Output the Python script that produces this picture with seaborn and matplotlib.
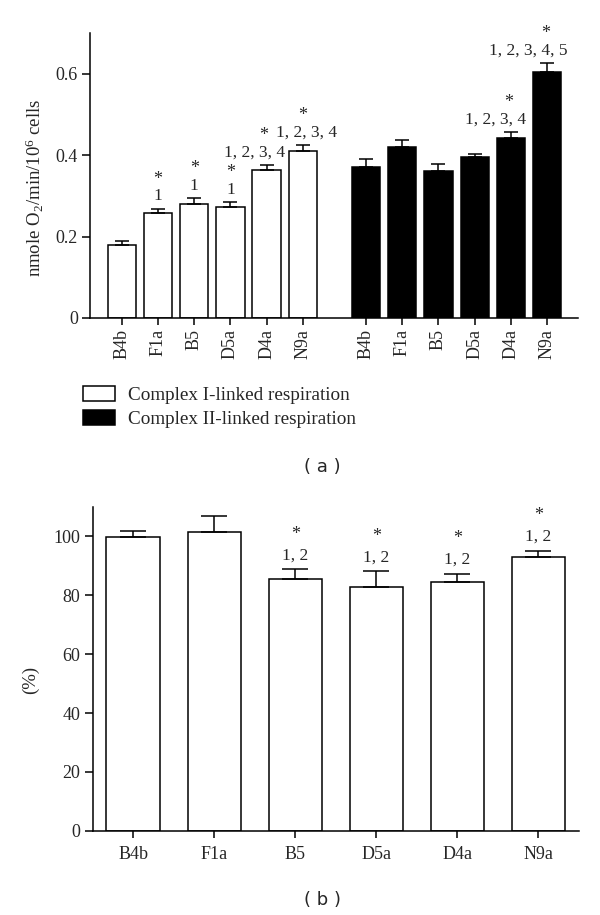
import matplotlib
matplotlib.use('Agg')
import matplotlib.pyplot as plt
from matplotlib.patches import Patch
import numpy as np
import pandas as pd
import seaborn as sns

# strains / cell lines
strains = ['B4b', 'F1a', 'B5', 'D5a', 'D4a', 'N9a']
series_names = ['Complex I-linked respiration', 'Complex II-linked respiration']

# (a) oxygen consumption, nmole O2/min/10^6 cells (mean + SEM)
complex1_mean = [0.178, 0.258, 0.281, 0.272, 0.363, 0.411]
complex1_sem = [0.010, 0.010, 0.013, 0.012, 0.012, 0.014]
complex2_mean = [0.371, 0.419, 0.361, 0.395, 0.442, 0.604]
complex2_sem = [0.019, 0.018, 0.016, 0.007, 0.014, 0.022]
complex1_marks = ['', '1', '1', '1', '1, 2, 3, 4', '1, 2, 3, 4']
complex2_marks = ['', '', '', '', '1, 2, 3, 4', '1, 2, 3, 4, 5']

# (b) ratio in %
ratio_mean = [99.9, 101.6, 85.7, 82.7, 84.5, 93.0]
ratio_sem = [1.9, 5.2, 3.1, 5.5, 2.9, 2.1]
ratio_marks = ['', '', '1, 2', '1, 2', '1, 2', '1, 2']

yticks_a = [0, 0.2, 0.4, 0.6]
yticklabels_a = ['0', '0.2', '0.4', '0.6']
yticks_b = [0, 20, 40, 60, 80, 100]

sns.set_theme(style='ticks')
plt.rcParams['font.family'] = ['Liberation Serif', 'DejaVu Serif']
plt.rcParams['mathtext.default'] = 'regular'

PX = 0.72  # points per pixel at dpi 100
LW = 1.1
STAR_SIZE = 13
MARK_SIZE = 12.5

fig = plt.figure(figsize=(6, 9.15), dpi=100)
ax_a = fig.add_axes([0.15, 0.6525, 0.813, 0.3115])
ax_b = fig.add_axes([0.1545, 0.0921, 0.8105, 0.3538])

# ---- panel a ----
gap = 6.75
pos1 = np.arange(len(strains), dtype=float)
pos2 = pos1 + gap
df_a = pd.DataFrame({
    'pos': np.concatenate([pos1, pos2]),
    'value': complex1_mean + complex2_mean,
    'sem': complex1_sem + complex2_sem,
    'mark': complex1_marks + complex2_marks,
    'series': [series_names[0]] * 6 + [series_names[1]] * 6,
})
sns.barplot(data=df_a, x='pos', y='value', hue='series', native_scale=True,
            dodge=False, width=0.78, palette={series_names[0]: 'white', series_names[1]: 'black'},
            edgecolor='black', linewidth=LW, legend=False, ax=ax_a)
ax_a.errorbar(df_a['pos'], df_a['value'], yerr=[np.zeros(len(df_a)), df_a['sem']],
              fmt='none', ecolor='black', elinewidth=LW, capsize=5, capthick=LW, zorder=3)

# label offsets (px): number dx, star dx
label_dx_a = [0, 0, 0, 0, -12, 4, 0, 0, 0, 0, -15, -19]
star_dx_a = [0, 0, 0, 0, -3, 0, 0, 0, 0, 0, -2, -1]
for i, row in df_a.iterrows():
    if not row['mark']:
        continue
    top = row['value'] + row['sem']
    ax_a.annotate(row['mark'], (row['pos'], top), xytext=(label_dx_a[i] * PX, 12.5 * PX),
                  textcoords='offset points', ha='center', va='center', fontsize=MARK_SIZE)
    ax_a.annotate('*', (row['pos'], top), xytext=(star_dx_a[i] * PX, 29.5 * PX),
                  textcoords='offset points', ha='center', va='center', fontsize=STAR_SIZE)

ax_a.set_xlim(-0.88, 12.6)
ax_a.set_ylim(0, 0.7)
ax_a.set_xticks(df_a['pos'])
ax_a.set_xticklabels(strains + strains, rotation=90, fontsize=13)
ax_a.set_yticks(yticks_a)
ax_a.set_yticklabels(yticklabels_a, fontsize=13)
ax_a.set_xlabel('')
ax_a.set_ylabel('')
fig.text(35 / 600, 1 - 188 / 915, 'nmole O$_2$/min/10$^6$ cells', rotation=90,
         ha='center', va='center', fontsize=13.5)

# ---- panel b ----
df_b = pd.DataFrame({'strain': strains, 'value': ratio_mean, 'sem': ratio_sem, 'mark': ratio_marks})
sns.barplot(data=df_b, x='strain', y='value', color='white', width=0.66,
            edgecolor='black', linewidth=LW, ax=ax_b)
ax_b.errorbar(np.arange(len(strains)), df_b['value'], yerr=[np.zeros(len(df_b)), df_b['sem']],
              fmt='none', ecolor='black', elinewidth=LW, capsize=9.4, capthick=LW, zorder=3)
for i, row in df_b.iterrows():
    if not row['mark']:
        continue
    top = row['value'] + row['sem']
    ax_b.annotate(row['mark'], (i, top), xytext=(0, 14 * PX),
                  textcoords='offset points', ha='center', va='center', fontsize=MARK_SIZE)
    ax_b.annotate('*', (i, top), xytext=(0, 35 * PX),
                  textcoords='offset points', ha='center', va='center', fontsize=STAR_SIZE)

ax_b.set_xlim(-0.5, 5.5)
ax_b.set_ylim(0, 110)
ax_b.set_yticks(yticks_b)
ax_b.tick_params(axis='both', labelsize=13)
ax_b.set_xlabel('')
ax_b.set_ylabel('')
fig.text(30 / 600, 1 - 680 / 915, '(%)', rotation=90, ha='center', va='center', fontsize=13.5)

for ax in (ax_a, ax_b):
    sns.despine(ax=ax)
    for side in ('left', 'bottom'):
        ax.spines[side].set_linewidth(LW)
        ax.spines[side].set_color('black')
    ax.tick_params(axis='y', length=8 * PX, width=LW, color='black', pad=3)
    ax.tick_params(axis='x', length=7 * PX, width=LW, color='black', pad=3)
ax_b.tick_params(axis='x', pad=6)

# legend
handles = [Patch(facecolor='white', edgecolor='black', linewidth=LW, label=series_names[0]),
           Patch(facecolor='black', edgecolor='black', linewidth=LW, label=series_names[1])]
fig.legend(handles=handles, loc='upper left', bbox_to_anchor=(83 / 600, 1 - 386 / 915),
           frameon=False, borderpad=0, borderaxespad=0, handlelength=1.68, handleheight=0.84,
           handletextpad=0.68, labelspacing=0.3, prop={'family': 'Liberation Serif', 'size': 13.8})

fig.text(322 / 600, 1 - 467 / 915, '( a )', ha='center', va='center', fontsize=13, family='DejaVu Sans')
fig.text(323 / 600, 1 - 900 / 915, '( b )', ha='center', va='center', fontsize=13, family='DejaVu Sans')

fig.savefig('out.png', dpi=100)
